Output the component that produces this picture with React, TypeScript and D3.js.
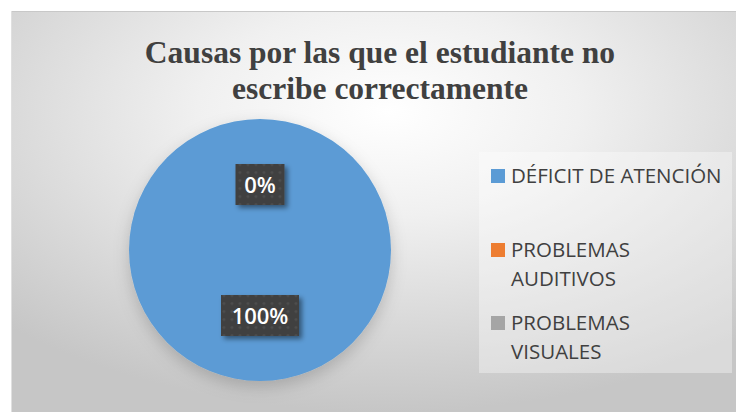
import React from "react";
import * as d3 from "d3";

const categories = ["DÉFICIT DE ATENCIÓN", "PROBLEMAS AUDITIVOS", "PROBLEMAS VISUALES"];
const legendLines = [["DÉFICIT DE ATENCIÓN"], ["PROBLEMAS", "AUDITIVOS"], ["PROBLEMAS", "VISUALES"]];
const values = [100, 0, 0];
const colors = ["#5b9bd5", "#ed7d31", "#a5a5a5"];
const titleLines = ["Causas por las que el estudiante no", "escribe correctamente"];

export default function App() {
  const W = 736, H = 412;
  const cx = 260, cy = 250, r = 131;
  const total = d3.sum(values);
  const pie = d3.pie<number>().sort(null).value((d) => d);
  const arcs = pie(values);
  const arc = d3.arc<d3.PieArcDatum<number>>().innerRadius(0).outerRadius(r);
  const labelArc = d3.arc<d3.PieArcDatum<number>>().innerRadius(0).outerRadius(r);
  const fmt = d3.format(".0%");

  const labels = arcs.map((a, i) => {
    const [x, y] = labelArc.centroid(a);
    return { x, y, text: fmt(values[i] / total), i };
  });
  const seen = new Set<string>();
  const uniq = labels.filter((l) => {
    const k = `${Math.round(l.x)}_${Math.round(l.y)}`;
    if (seen.has(k)) return false;
    seen.add(k);
    return true;
  });

  const legendY = [183, 257, 330];

  return (
    <svg width={W} height={H} style={{ position: "absolute", left: 0, top: 0 }}>
      <defs>
        <radialGradient id="bg" cx="52%" cy="25%" r="75%" fx="52%" fy="25%">
          <stop offset="0%" stopColor="#ffffff" />
          <stop offset="35%" stopColor="#f0f0f0" />
          <stop offset="100%" stopColor="#c6c6c6" />
        </radialGradient>
        <pattern id="dots" width="8" height="8" patternUnits="userSpaceOnUse">
          <rect width="8" height="8" fill="#3f3f3f" />
          <circle cx="4" cy="4" r="1.6" fill="#4d4d4d" />
        </pattern>
        <filter id="shadow" x="-30%" y="-30%" width="160%" height="160%">
          <feDropShadow dx="3" dy="3" stdDeviation="2.5" floodColor="#000" floodOpacity="0.45" />
        </filter>
        <filter id="pieShadow" x="-30%" y="-30%" width="160%" height="160%">
          <feDropShadow dx="0" dy="6" stdDeviation="8" floodColor="#000" floodOpacity="0.18" />
        </filter>
      </defs>
      <rect x={0} y={0} width={W} height={H} fill="#ffffff" />
      <rect x={11} y={11} width={W - 11} height={H - 11} fill="url(#bg)" />
      <line x1={11} y1={11.5} x2={W} y2={11.5} stroke="#c8c8c8" strokeWidth={1} />
      <line x1={11.5} y1={11} x2={11.5} y2={H} stroke="#e0e0e0" strokeWidth={1} />

      {titleLines.map((t, i) => (
        <text
          key={i}
          x={380}
          y={63 + i * 36}
          textAnchor="middle"
          fontFamily="'Liberation Serif', 'Times New Roman', serif"
          fontWeight="bold"
          fontSize={31.5}
          fill="#404040"
        >
          {t}
        </text>
      ))}

      <g transform={`translate(${cx},${cy})`} filter="url(#pieShadow)">
        {arcs.map((a, i) => (
          <path key={i} d={arc(a) || ""} fill={colors[i]} />
        ))}
      </g>

      <g transform={`translate(${cx},${cy})`}>
        {uniq.map((l) => {
          const w = l.text.length > 2 ? 78 : 49;
          const h = 41;
          return (
            <g key={l.i} transform={`translate(${l.x},${l.y})`}>
              <rect x={-w / 2} y={-h / 2} width={w} height={h} fill="url(#dots)" filter="url(#shadow)" />
              <text
                x={0}
                y={8}
                textAnchor="middle"
                fontFamily="'Open Sans', 'Noto Sans', sans-serif"
                fontWeight="600"
                fontSize={22}
                fill="#ffffff"
              >
                {l.text}
              </text>
            </g>
          );
        })}
      </g>

      <rect x={479} y={152} width={253} height={221} fill="#ffffff" opacity={0.35} />
      {categories.map((c, i) => (
        <g key={c}>
          <rect x={491} y={legendY[i] - 14} width={14} height={14} fill={colors[i]} />
          {legendLines[i].map((ln, j) => (
            <text
              key={j}
              x={511}
              y={legendY[i] + j * 29}
              fontFamily="'Open Sans', 'Noto Sans', sans-serif"
              fontSize={20.5}
              fill="#404040"
            >
              {ln}
            </text>
          ))}
        </g>
      ))}
    </svg>
  );
}
